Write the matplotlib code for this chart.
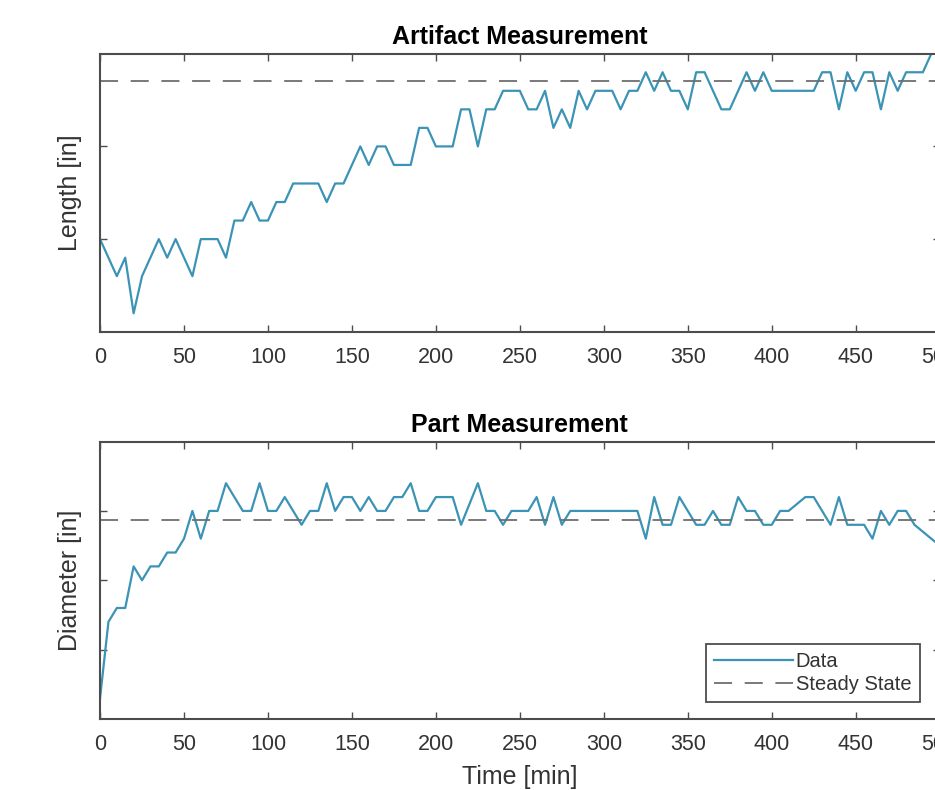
import numpy as np
import matplotlib
matplotlib.use('Agg')
import matplotlib.pyplot as plt

plt.rcParams['font.family'] = ['Liberation Sans', 'DejaVu Sans']

# sample times [min]
time = np.arange(0, 505, 5)

# artifact length (arbitrary units, y labels hidden in the original)
length = [1.0, 0.8, 0.6, 0.8, 0.2, 0.6, 0.8, 1.0, 0.8, 1.0, 0.8,
          0.6, 1.0, 1.0, 1.0, 0.8, 1.2, 1.2, 1.4, 1.2, 1.2,
          1.4, 1.4, 1.6, 1.6, 1.6, 1.6, 1.4, 1.6, 1.6, 1.8,
          2.0, 1.8, 2.0, 2.0, 1.8, 1.8, 1.8, 2.2, 2.2, 2.0,
          2.0, 2.0, 2.4, 2.4, 2.0, 2.4, 2.4, 2.6, 2.6, 2.6,
          2.4, 2.4, 2.6, 2.2, 2.4, 2.2, 2.6, 2.4, 2.6, 2.6,
          2.6, 2.4, 2.6, 2.6, 2.8, 2.6, 2.8, 2.6, 2.6, 2.4,
          2.8, 2.8, 2.6, 2.4, 2.4, 2.6, 2.8, 2.6, 2.8, 2.6,
          2.6, 2.6, 2.6, 2.6, 2.6, 2.8, 2.8, 2.4, 2.8, 2.6,
          2.8, 2.8, 2.4, 2.8, 2.6, 2.8, 2.8, 2.8, 3.0, 3.0]
length_ss = 2.71

# part diameter
diameter = [0.3, 1.4, 1.6, 1.6, 2.2, 2.0, 2.2, 2.2, 2.4, 2.4, 2.6,
            3.0, 2.6, 3.0, 3.0, 3.4, 3.2, 3.0, 3.0, 3.4, 3.0,
            3.0, 3.2, 3.0, 2.8, 3.0, 3.0, 3.4, 3.0, 3.2, 3.2,
            3.0, 3.2, 3.0, 3.0, 3.2, 3.2, 3.4, 3.0, 3.0, 3.2,
            3.2, 3.2, 2.8, 3.1, 3.4, 3.0, 3.0, 2.8, 3.0, 3.0,
            3.0, 3.2, 2.8, 3.2, 2.8, 3.0, 3.0, 3.0, 3.0, 3.0,
            3.0, 3.0, 3.0, 3.0, 2.6, 3.2, 2.8, 2.8, 3.2, 3.0,
            2.8, 2.8, 3.0, 2.8, 2.8, 3.2, 3.0, 3.0, 2.8, 2.8,
            3.0, 3.0, 3.1, 3.2, 3.2, 3.0, 2.8, 3.2, 2.8, 2.8,
            2.8, 2.6, 3.0, 2.8, 3.0, 3.0, 2.8, 2.7, 2.6, 2.5]
diameter_ss = 2.87

xticks = list(range(0, 501, 50))

line_color = '#3b93b5'
ss_color = '#6e6e6e'
frame_color = '#4d4d4d'
text_color = '#333333'

fig = plt.figure(figsize=(9.35, 7.9), dpi=100)
ax1 = fig.add_axes([0.107, 0.580, 0.898, 0.352])
ax2 = fig.add_axes([0.107, 0.090, 0.898, 0.351])


def style(ax, ylim, yticks):
    ax.set_xlim(0, 500)
    ax.set_ylim(*ylim)
    ax.set_xticks(xticks)
    ax.set_yticks(yticks)
    ax.set_yticklabels([])
    ax.tick_params(direction='in', length=5, width=1, colors=frame_color,
                   top=True, right=True, labelsize=15.5, pad=11)
    ax.tick_params(axis='x', labelcolor=text_color)
    for s in ax.spines.values():
        s.set_color(frame_color)
        s.set_linewidth(1.5)


ax1.plot(time, length, color=line_color, lw=1.6, label='Data')
ax1.axhline(length_ss, color=ss_color, lw=1.3, ls=(0, (10, 7)), label='Steady State')
style(ax1, (0, 3), [1, 2])
ax1.set_title('Artifact Measurement', fontsize=18, fontweight='bold', pad=7)
ax1.set_ylabel('Length [in]', fontsize=18, color=text_color, labelpad=2)

ax2.plot(time, diameter, color=line_color, lw=1.6, label='Data')
ax2.axhline(diameter_ss, color=ss_color, lw=1.3, ls=(0, (10, 7)), label='Steady State')
style(ax2, (0, 4), [1, 2, 3])
ax2.set_title('Part Measurement', fontsize=18, fontweight='bold', pad=7)
ax2.set_ylabel('Diameter [in]', fontsize=18, color=text_color, labelpad=2)
ax2.set_xlabel('Time [min]', fontsize=18, color=text_color, labelpad=7)

leg = ax2.legend(loc='lower right', bbox_to_anchor=(0.976, 0.061), fontsize=14.5,
                 handlelength=3.9, handletextpad=0.15, borderpad=0.4,
                 labelspacing=0.2, fancybox=False, framealpha=1, borderaxespad=0)
leg.get_frame().set_edgecolor(frame_color)
leg.get_frame().set_linewidth(1.3)
for t in leg.get_texts():
    t.set_color(text_color)

fig.savefig('out.png', dpi=100)
